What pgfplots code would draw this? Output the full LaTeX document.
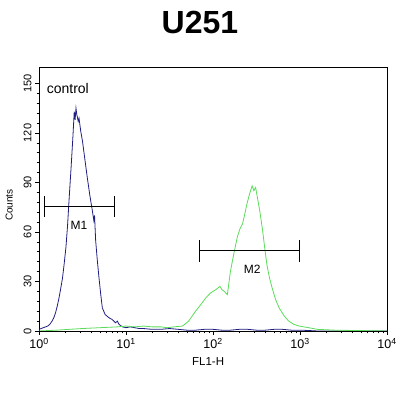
\documentclass[border=0pt]{standalone}
\usepackage{pgfplots}
\pgfplotsset{compat=1.18}
\usepackage{fontspec}
\setmainfont{Liberation Sans}
\definecolor{ctrlblue}{RGB}{30,30,130}
\definecolor{fgreen}{RGB}{90,220,90}
\begin{document}
\begin{tikzpicture}
\useasboundingbox (-39pt,-64pt) rectangle (361pt,331pt);
\begin{axis}[
  at={(0pt,0pt)}, anchor=south west,
  scale only axis, width=348pt, height=264pt,
  xmode=log, xmin=1, xmax=10000, ymin=0, ymax=160,
  xtick={1,10,100,1000,10000},
  xticklabels={10\textsuperscript{0},10\textsuperscript{1},10\textsuperscript{2},10\textsuperscript{3},10\textsuperscript{4}},
  ytick={0,30,60,90,120,150},
  yticklabels={0,30,60,90,120,150},
  minor y tick num=4,
  tick align=outside, tick pos=left,
  major tick length=4pt, minor tick length=2.5pt,
  every tick/.style={black, line width=0.6pt},
  axis line style={black, line width=0.8pt},
  xticklabel style={font=\fontsize{12.5}{13}\selectfont, yshift=0pt},
  yticklabel style={rotate=90, anchor=south, font=\fontsize{11}{12}\selectfont},
  xlabel={FL1-H}, ylabel={Counts},
  xlabel style={at={(axis description cs:0.486,-0.117)}, anchor=center, font=\fontsize{11.5}{12}\selectfont},
  ylabel style={at={(axis description cs:-0.086,0.477)}, anchor=center, rotate=0, font=\fontsize{10}{11}\selectfont},
  clip=true,
]
% control (blue)
\addplot[ctrlblue, line width=0.8pt] coordinates {
(1,1) (1.06,1.5) (1.122,2) (1.19,2.5) (1.259,3) (1.33,4) (1.413,6) (1.48,8) (1.549,11) (1.62,15) (1.698,20)
(1.78,26) (1.862,32) (1.95,41) (2.042,51) (2.13,64) (2.213,79) (2.344,100) (2.455,118) (2.541,133)
(2.600,128) (2.661,135) (2.72,131) (2.754,130) (2.82,127) (2.884,129) (3.020,121) (3.162,115) (3.388,103)
(3.589,93) (3.846,82) (4.102,73) (4.266,67) (4.35,70) (4.477,55) (4.677,43) (4.898,32) (5.129,22)
(5.346,14) (5.754,10) (6.383,8) (6.918,7) (7.586,5) (7.943,6) (8.318,4) (9.120,2.5) (10,2)
(11.2,2.5) (12.59,2) (14.1,1.5) (15.85,1.5) (19.9,1) (25.12,1) (31.6,1.5) (39.81,1) (50.1,0.5)
(63.1,0.5) (79.4,1) (100,1) (126,0.5) (158.5,0.5) (200,1) (251.2,1) (316,0.5) (398.1,0.5) (501,1)
(631,1) (794,0.5) (1000,0.5) (1259,0.3) (1585,0) (10000,0)
};
% sample (green)
\addplot[fgreen, line width=0.8pt] coordinates {
(1,0) (1.585,0.5) (2.239,1) (3.162,1.5) (5.012,2) (7.943,2.5) (10,3) (12.6,2.5) (15.85,3) (20,2.5)
(25.12,2.5) (30,2) (35.48,2.5) (44.67,3) (52.48,6) (63.10,12) (72.44,16) (82.41,20) (93.33,23)
(107.2,25) (120.2,27) (127,25) (134.9,24) (146.2,22) (158.5,36) (173.8,47) (190.5,57) (204.2,62)
(218.8,65) (234.4,72) (245.5,77) (263.0,83) (281.8,88) (295.1,85) (309.0,87) (323.6,81) (346.7,72)
(371.5,61) (398.1,48) (416.9,40) (446.7,32) (478.6,26) (524.8,19) (575.4,14) (660.7,9) (741.3,6)
(851.1,4) (977.2,3) (1259,2) (1585,1) (2512,0.5) (10000,0)
};
% markers
\draw[black, line width=0.8pt] (axis cs:1.14,75.5) -- (axis cs:7.28,75.5);
\draw[black, line width=0.8pt] (axis cs:1.14,69) -- (axis cs:1.14,82);
\draw[black, line width=0.8pt] (axis cs:7.28,69) -- (axis cs:7.28,82);
\draw[black, line width=0.8pt] (axis cs:70.3,48.6) -- (axis cs:993,48.6);
\draw[black, line width=0.8pt] (axis cs:70.3,42) -- (axis cs:70.3,55);
\draw[black, line width=0.8pt] (axis cs:993,42) -- (axis cs:993,55);
\node[font=\fontsize{12}{13}\selectfont] at (axis cs:2.88,64) {M1};
\node[font=\fontsize{12}{13}\selectfont] at (axis cs:282,37.6) {M2};
\node[anchor=west, font=\fontsize{14}{15}\selectfont] at (axis cs:1.12,147) {control};
\end{axis}
\node[font=\bfseries\fontsize{32}{36}\selectfont] at (161pt,309pt) {U251};
\end{tikzpicture}
\end{document}
